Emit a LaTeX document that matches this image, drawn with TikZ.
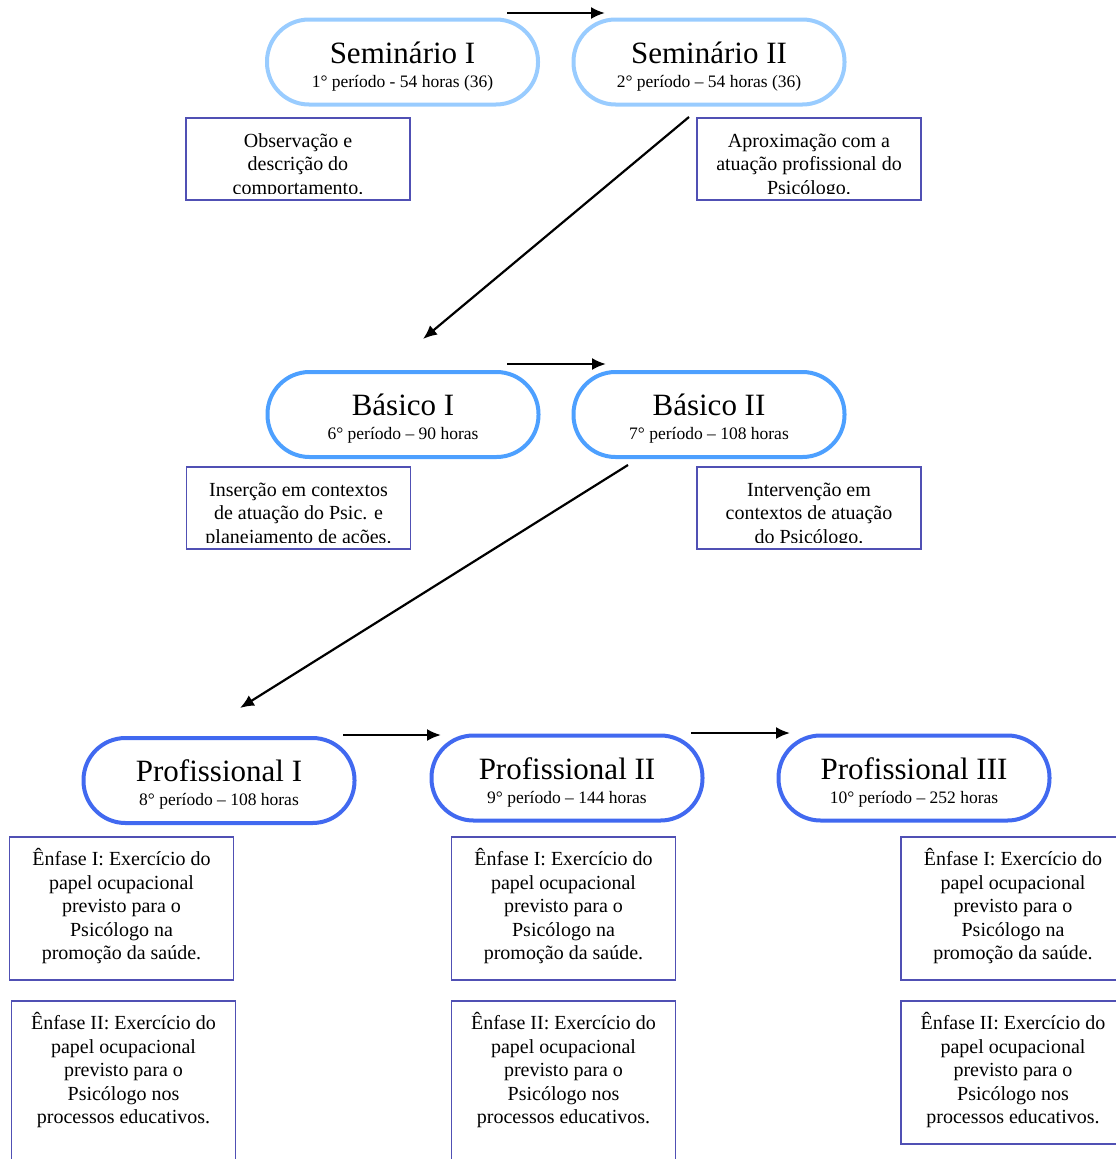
\documentclass[tikz,border=0pt]{standalone}
\usepackage{fontspec}
\setmainfont{Liberation Serif}
\usetikzlibrary{arrows.meta}

\definecolor{semblue}{RGB}{153,204,255}
\definecolor{basblue}{RGB}{77,160,255}
\definecolor{problue}{RGB}{65,105,240}
\definecolor{boxline}{RGB}{80,80,180}

\tikzset{
  stage/.style={draw, line width=4pt, rounded corners=42pt, minimum width=271pt,
    minimum height=85pt, align=center, inner sep=0pt,
    font=\fontsize{17.5}{24}\selectfont},
  desc/.style={draw=boxline, line width=1.3pt, minimum width=224pt, inner sep=0pt},
  desctext/.style={anchor=north, align=center, inner sep=0pt,
    font=\fontsize{20}{23.5}\selectfont},
  flow/.style={line width=2.2pt, -{Latex[length=14pt,width=12pt]}}
}

\newcommand{\stagetext}[2]{\rule{0pt}{30pt}{\fontsize{31}{24}\selectfont #1}\\#2}

\begin{document}
\begin{tikzpicture}[x=1pt,y=-1pt]
    \useasboundingbox (0,0) rectangle (1116,1159);

    % etapas
    \node [stage, draw=semblue] (sem1) at (402.5,62) {\stagetext{Seminário I}{1° período - 54 horas (36)}};
    \node [stage, draw=semblue] (sem2) at (709,62) {\stagetext{Seminário II}{2° período – 54 horas (36)}};
    \node [stage, draw=basblue] (bas1) at (403,414.5) {\stagetext{Básico I}{6° período – 90 horas}};
    \node [stage, draw=basblue] (bas2) at (709,414.5) {\stagetext{Básico II}{7° período – 108 horas}};
    \node [stage, draw=problue] (prof1) at (219,780.5) {\stagetext{Profissional I}{8° período – 108 horas}};
    \node [stage, draw=problue] (prof2) at (567,778) {\stagetext{Profissional II}{9° período – 144 horas}};
    \node [stage, draw=problue] (prof3) at (914,778) {\stagetext{Profissional III}{10° período – 252 horas}};

    % descricoes
    \node [desc, minimum height=82pt] (obs) at (298,159) {};
    \node [desc, minimum height=82pt] (aprox) at (809,159) {};
    \node [desc, minimum height=82pt] (ins) at (298.5,508) {};
    \node [desc, minimum height=82pt] (interv) at (809,508) {};
    \begin{scope}
      \clip ([yshift=7pt]obs.south west) rectangle (obs.north east);
      \node [desctext] (obstxt) at ([yshift=-16pt]obs.north) {Observação e\\descrição do\\comportamento.};
    \end{scope}
    \begin{scope}
      \clip ([yshift=7pt]aprox.south west) rectangle (aprox.north east);
      \node [desctext] (aproxtxt) at ([yshift=-16pt]aprox.north) {Aproximação com a\\atuação profissional do\\Psicólogo.};
    \end{scope}
    \begin{scope}
      \clip ([yshift=7pt]ins.south west) rectangle (ins.north east);
      \node [desctext] (instxt) at ([yshift=-16pt]ins.north) {Inserção em contextos\\de atuação do Psic. e\\planejamento de ações.};
    \end{scope}
    \begin{scope}
      \clip ([yshift=7pt]interv.south west) rectangle (interv.north east);
      \node [desctext] (intervtxt) at ([yshift=-16pt]interv.north) {Intervenção em\\contextos de atuação\\do Psicólogo.};
    \end{scope}

    % enfases
    \node [desc, minimum height=143pt] (enfa1) at (121.5,908.5) {};
    \node [desc, minimum height=200pt] (enfb1) at (123.5,1101) {};
    \node [desc, minimum height=143pt] (enfa2) at (563.5,908.5) {};
    \node [desc, minimum height=200pt] (enfb2) at (563.5,1101) {};
    \node [desc, minimum height=143pt] (enfa3) at (1013,908.5) {};
    \node [desc, minimum height=143pt] (enfb3) at (1013,1072.5) {};
    \foreach \c in {1,2,3}{
      \node [desctext] (enfatxt\c) at ([yshift=-12pt]enfa\c.north) {Ênfase I: Exercício do\\papel ocupacional\\previsto para o\\Psicólogo na\\promoção da saúde.};
      \node [desctext] (enfbtxt\c) at ([yshift=-12pt]enfb\c.north) {Ênfase II: Exercício do\\papel ocupacional\\previsto para o\\Psicólogo nos\\processos educativos.};
    }

    % setas
    \draw [flow] ([xshift=-33pt,yshift=4.5pt]sem1.north east) -- ([xshift=33.5pt,yshift=4.5pt]sem2.north west);
    \draw [flow] ([xshift=-20pt,yshift=-10.5pt]sem2.south) -- ([xshift=20pt,yshift=31pt]bas1.north);
    \draw [flow] ([xshift=-33.5pt,yshift=6pt]bas1.north east) -- ([xshift=34.5pt,yshift=6pt]bas2.north west);
    \draw [flow] ([xshift=-81pt,yshift=-6pt]bas2.south) -- ([xshift=21pt,yshift=28pt]prof1.north);
    \draw [flow] ([xshift=-13.5pt,yshift=1pt]prof1.north east) -- ([xshift=11.5pt,yshift=-1.5pt]prof2.north west);
    \draw [flow] ([xshift=-13.5pt,yshift=0.5pt]prof2.north east) -- ([xshift=13.5pt,yshift=0.5pt]prof3.north west);
\end{tikzpicture}
\end{document}
